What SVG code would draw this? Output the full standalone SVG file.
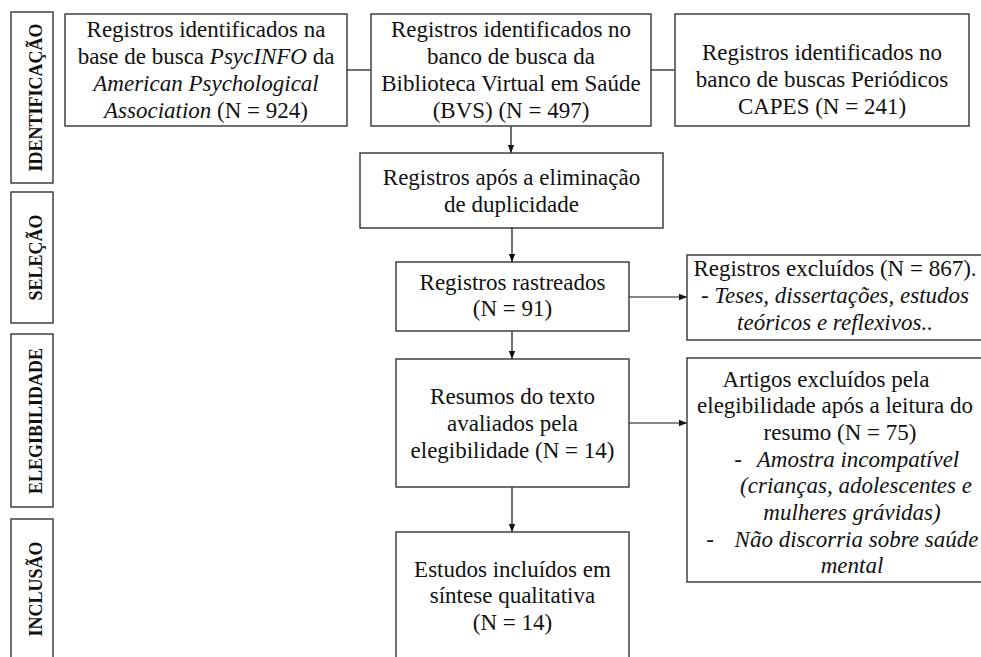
<svg xmlns="http://www.w3.org/2000/svg" width="981" height="657" viewBox="0 0 981 657">
<defs>
<marker id="ah" viewBox="0 0 8 8" refX="8" refY="4" markerWidth="8" markerHeight="8" markerUnits="userSpaceOnUse" orient="auto">
<path d="M0,0.8 L8,4 L0,7.2 Z" fill="#111"/>
</marker>
<style>
.box{fill:#fff;stroke:#333;stroke-width:1.4}
.t{font-size:23px;fill:#111;text-anchor:middle}
.lab{font-size:18px;font-weight:bold;fill:#111;text-anchor:middle}
.i{font-style:italic}
.c{stroke:#111;stroke-width:1.2;fill:none}
.a{marker-end:url(#ah)}
</style>
</defs>
<rect width="981" height="657" fill="#fff"/>
<g font-family="Liberation Serif">
<g id="phase-identificacao"><rect class="box" x="11" y="12" width="42" height="171"/><text class="lab" transform="translate(42,97.5) rotate(-90)">IDENTIFICAÇÃO</text></g>
<g id="phase-selecao"><rect class="box" x="11" y="192" width="42" height="131"/><text class="lab" transform="translate(42,257.5) rotate(-90)">SELEÇÃO</text></g>
<g id="phase-elegibilidade"><rect class="box" x="11" y="334" width="42" height="173"/><text class="lab" transform="translate(42,421) rotate(-90)">ELEGIBILIDADE</text></g>
<g id="phase-inclusao"><rect class="box" x="11" y="519" width="42" height="150"/><text class="lab" transform="translate(42,589) rotate(-90)">INCLUSÃO</text></g>

<g id="connectors">
<line class="c" x1="347" y1="70" x2="371" y2="70"/>
<line class="c" x1="651" y1="70" x2="675" y2="70"/>
<line class="c a" x1="511" y1="126" x2="511" y2="153"/>
<line class="c a" x1="512" y1="228" x2="512" y2="262"/>
<line class="c a" x1="629" y1="297" x2="687" y2="297"/>
<line class="c a" x1="512" y1="331" x2="512" y2="359"/>
<line class="c a" x1="629" y1="423" x2="687" y2="423"/>
<line class="c a" x1="512" y1="487" x2="512" y2="532"/>
</g>

<g id="psycinfo"><rect class="box" x="65" y="14" width="282" height="112"/>
<text class="t" x="206" y="37">Registros identificados na</text>
<text class="t" x="206" y="64">base de busca <tspan class="i">PsycINFO</tspan> da</text>
<text class="t i" x="206" y="91">American Psychological</text>
<text class="t" x="206" y="118"><tspan class="i">Association</tspan> (N = 924)</text>
</g>
<g id="bvs"><rect class="box" x="371" y="14" width="280" height="112"/>
<text class="t" x="511" y="37">Registros identificados no</text>
<text class="t" x="511" y="64">banco de busca da</text>
<text class="t" x="511" y="91">Biblioteca Virtual em Saúde</text>
<text class="t" x="511" y="118">(BVS)  (N = 497)</text>
</g>
<g id="capes"><rect class="box" x="675" y="14" width="294" height="112"/>
<text class="t" x="822" y="60">Registros identificados no</text>
<text class="t" x="822" y="87">banco de buscas Periódicos</text>
<text class="t" x="822" y="114">CAPES (N = 241)</text>
</g>
<g id="duplicidade"><rect class="box" x="360" y="153" width="303" height="75"/>
<text class="t" x="511.5" y="185">Registros após a eliminação</text>
<text class="t" x="511.5" y="212">de duplicidade</text>
</g>
<g id="rastreados"><rect class="box" x="396" y="262" width="233" height="69"/>
<text class="t" x="512.5" y="290">Registros rastreados</text>
<text class="t" x="512.5" y="316">(N = 91)</text>
</g>
<g id="excluidos"><rect class="box" x="687" y="255" width="298" height="85"/>
<text class="t" x="835" y="276">Registros excluídos (N = 867).</text>
<text class="t" x="835" y="303">- <tspan class="i">Teses, dissertações, estudos</tspan></text>
<text class="t i" x="835" y="330">teóricos e reflexivos..</text>
</g>
<g id="resumos"><rect class="box" x="396" y="359" width="233" height="128"/>
<text class="t" x="512.5" y="404">Resumos do texto</text>
<text class="t" x="512.5" y="431">avaliados pela</text>
<text class="t" x="512.5" y="458">elegibilidade  (N = 14)</text>
</g>
<g id="artigos-excluidos"><rect class="box" x="687" y="358" width="298" height="224"/>
<text class="t" x="826" y="387">Artigos excluídos pela</text>
<text class="t" x="835" y="413">elegibilidade  após a leitura do</text>
<text class="t" x="840" y="440">resumo (N = 75)</text>
<text class="t" x="738" y="467">-</text>
<text class="t i" x="858" y="467">Amostra incompatível</text>
<text class="t i" x="856" y="493">(crianças, adolescentes e</text>
<text class="t i" x="852" y="520">mulheres grávidas)</text>
<text class="t" x="710" y="547">-</text>
<text class="t i" x="856.5" y="547">Não discorria sobre saúde</text>
<text class="t i" x="852" y="573">mental</text>
</g>
<g id="incluidos"><rect class="box" x="396" y="532" width="233" height="140"/>
<text class="t" x="512.5" y="577">Estudos incluídos em</text>
<text class="t" x="512.5" y="603">síntese qualitativa</text>
<text class="t" x="512.5" y="630">(N = 14)</text>
</g>
</g>
</svg>
